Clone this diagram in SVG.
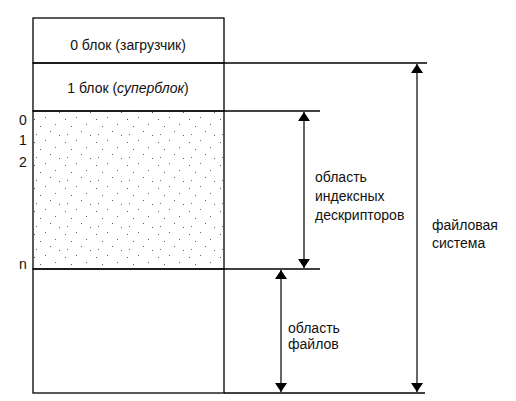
<svg xmlns="http://www.w3.org/2000/svg" width="516" height="401" viewBox="0 0 516 401">
<style>
text{font-family:"Liberation Sans",Arial,sans-serif;font-size:14px;fill:#111}
.ln{stroke:#000;stroke-width:1.3;fill:none}
.dotted{fill:url(#dots)}
.ar{stroke:#000;stroke-width:1.2;fill:none;marker-start:url(#ah);marker-end:url(#ah)}
</style>
<defs>
<marker id="ah" viewBox="0 0 10 10" refX="10" refY="5" markerWidth="9" markerHeight="12" markerUnits="userSpaceOnUse" orient="auto-start-reverse" preserveAspectRatio="none">
<path d="M0,0 L10,5 L0,10 Z" fill="#000"/>
</marker>
<pattern id="dots" width="31" height="23" patternUnits="userSpaceOnUse">
<rect x="3" y="4" width="1" height="1" fill="#555"/>
<rect x="14" y="2" width="1" height="1" fill="#666"/>
<rect x="9" y="11" width="1" height="1" fill="#555"/>
<rect x="24" y="9" width="1" height="1" fill="#666"/>
<rect x="19" y="16" width="1" height="1" fill="#555"/>
<rect x="5" y="19" width="1" height="1" fill="#666"/>
<rect x="28" y="20" width="1" height="1" fill="#555"/>
</pattern>
</defs>
<rect width="516" height="401" fill="#fff"/>
<g id="block0">
<rect x="33" y="18" width="191" height="45" class="ln"/>
<text x="128" y="50" text-anchor="middle">0 блок (загрузчик)</text>
</g>
<g id="block1">
<rect x="33" y="63" width="191" height="48" class="ln"/>
<text x="128" y="93" text-anchor="middle">1 блок (<tspan font-style="italic">суперблок</tspan>)</text>
</g>
<g id="inodes">
<rect x="33" y="111" width="191" height="158" class="ln dotted"/>
<text x="19" y="125">0</text>
<text x="19" y="145">1</text>
<text x="19" y="167">2</text>
<text x="19" y="269">n</text>
</g>
<g id="files">
<rect x="33" y="269" width="191" height="124" class="ln"/>
</g>
<g id="connectors">
<line x1="224" y1="63" x2="427" y2="63" class="ln"/>
<line x1="224" y1="111" x2="320" y2="111" class="ln"/>
<line x1="224" y1="269" x2="320" y2="269" class="ln"/>
<line x1="224" y1="393" x2="425" y2="393" class="ln"/>
<line x1="304" y1="112" x2="304" y2="268" class="ar"/>
<line x1="281" y1="270" x2="281" y2="392" class="ar"/>
<line x1="417" y1="64" x2="417" y2="392" class="ar"/>
</g>
<g id="label-inodes">
<text x="315" y="182">область</text>
<text x="315" y="201">индексных</text>
<text x="315" y="220">дескрипторов</text>
</g>
<g id="label-files">
<text x="288" y="333">область</text>
<text x="288" y="349">файлов</text>
</g>
<g id="label-fs">
<text x="432" y="230">файловая</text>
<text x="432" y="248">система</text>
</g>
</svg>
